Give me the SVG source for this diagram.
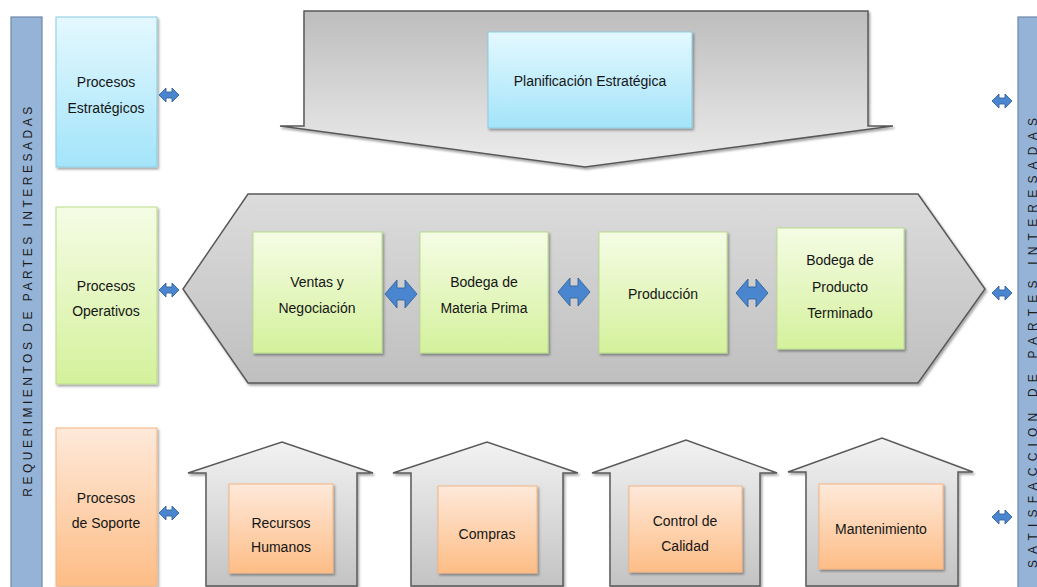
<svg xmlns="http://www.w3.org/2000/svg" width="1037" height="587" viewBox="0 0 1037 587">
  <defs>
    <linearGradient id="gBlue" x1="0" y1="0" x2="0" y2="1">
      <stop offset="0" stop-color="#E4F8FE"/>
      <stop offset="1" stop-color="#A3E4FA"/>
    </linearGradient>
    <linearGradient id="gGreen" x1="0" y1="0" x2="0" y2="1">
      <stop offset="0" stop-color="#F5FCE5"/>
      <stop offset="1" stop-color="#D4F19C"/>
    </linearGradient>
    <linearGradient id="gOrange" x1="0" y1="0" x2="0" y2="1">
      <stop offset="0" stop-color="#FEE9DA"/>
      <stop offset="1" stop-color="#FDBD86"/>
    </linearGradient>
    <linearGradient id="gBanner" x1="0" y1="0" x2="0" y2="1">
      <stop offset="0" stop-color="#BDBDBD"/>
      <stop offset="1" stop-color="#EDEDED"/>
    </linearGradient>
    <linearGradient id="gHex" x1="0" y1="0" x2="0" y2="1">
      <stop offset="0" stop-color="#DCDCDC"/>
      <stop offset="1" stop-color="#BFBFBF"/>
    </linearGradient>
    <linearGradient id="gHouse" x1="0" y1="0" x2="0" y2="1">
      <stop offset="0" stop-color="#F2F2F2"/>
      <stop offset="1" stop-color="#C3C3C3"/>
    </linearGradient>
    <filter id="shadow" x="-10%" y="-10%" width="130%" height="130%">
      <feDropShadow dx="1.5" dy="2" stdDeviation="1.2" flood-color="#000" flood-opacity="0.35"/>
    </filter>
    <!-- double-headed block arrows, centred on the origin -->
    <path id="dblSmall" d="M-10,0 L-3,-7 L-3,-3 L3,-3 L3,-7 L10,0 L3,7 L3,3 L-3,3 L-3,7 Z"/>
    <path id="dblBig" d="M-16,0 L-4,-14 L-4,-6 L4,-6 L4,-14 L16,0 L4,14 L4,6 L-4,6 L-4,14 Z"/>
  </defs>
  <style>
    .lbl { font-family: "Liberation Sans", Arial, sans-serif; font-size: 14px; fill: #151515; text-anchor: middle; }
    .side { fill: #95B3D7; stroke: #6F87A8; stroke-width: 1.2; }
    .sideTxt { font-family: "Liberation Sans", Arial, sans-serif; font-size: 12px; fill: #1A1A1A; text-anchor: middle; }
    .blue { fill: url(#gBlue); stroke: #8CCBE0; stroke-width: 1; filter: url(#shadow); }
    .green { fill: url(#gGreen); stroke: #B9DC8C; stroke-width: 1; filter: url(#shadow); }
    .orange { fill: url(#gOrange); stroke: #F2B484; stroke-width: 1; filter: url(#shadow); }
    .gray { stroke: #595959; stroke-width: 1.5; stroke-linejoin: miter; filter: url(#shadow); }
    .arr { fill: #4A86CF; stroke: #34629A; stroke-width: 0.9; }
  </style>

  <rect width="1037" height="587" fill="#FFFFFF"/>

  <!-- side bands -->
  <g id="requerimientos">
    <rect class="side" x="11" y="17" width="31" height="575"/>
    <text class="sideTxt" transform="translate(32,300) rotate(-90)" letter-spacing="3.5">REQUERIMIENTOS DE PARTES INTERESADAS</text>
  </g>
  <g id="satisfaccion">
    <rect class="side" x="1018" y="17" width="30" height="575"/>
    <text class="sideTxt" transform="translate(1036.5,340) rotate(-90)" letter-spacing="6.2">SATISFACCION DE PARTES INTERESADAS</text>
  </g>

  <!-- process category boxes -->
  <g id="procesos-estrategicos">
    <rect class="blue" x="56" y="17" width="101" height="150"/>
    <text class="lbl" x="106" y="87">Procesos</text>
    <text class="lbl" x="106" y="113">Estratégicos</text>
  </g>
  <g id="procesos-operativos">
    <rect class="green" x="56" y="207" width="101" height="177"/>
    <text class="lbl" x="106" y="291">Procesos</text>
    <text class="lbl" x="106" y="316">Operativos</text>
  </g>
  <g id="procesos-soporte">
    <rect class="orange" x="56" y="428" width="101" height="158"/>
    <text class="lbl" x="106" y="503">Procesos</text>
    <text class="lbl" x="106" y="528">de Soporte</text>
  </g>

  <!-- strategic planning banner -->
  <g id="planificacion">
    <path class="gray" fill="url(#gBanner)" d="M304,11 L868,11 L868,126 L893,126 L585,167 L280,126 L304,126 Z"/>
    <rect class="blue" x="488" y="32" width="204" height="96"/>
    <text class="lbl" x="590" y="86">Planificación Estratégica</text>
  </g>

  <!-- operative chain -->
  <g id="cadena-operativa">
    <path class="gray" fill="url(#gHex)" d="M248,194 L918,194 L985,289 L918,383 L248,383 L183,289 Z"/>
  </g>
  <g id="ventas">
    <rect class="green" x="253" y="232" width="129" height="121"/>
    <text class="lbl" x="317" y="287">Ventas y</text>
    <text class="lbl" x="317" y="313">Negociación</text>
  </g>
  <g id="bodega-mp">
    <rect class="green" x="420" y="232" width="128" height="121"/>
    <text class="lbl" x="484" y="287">Bodega de</text>
    <text class="lbl" x="484" y="313">Materia Prima</text>
  </g>
  <g id="produccion">
    <rect class="green" x="599" y="232" width="128" height="121"/>
    <text class="lbl" x="663" y="299">Producción</text>
  </g>
  <g id="bodega-pt">
    <rect class="green" x="777" y="228" width="127" height="121"/>
    <text class="lbl" x="840" y="265">Bodega de</text>
    <text class="lbl" x="840" y="292">Producto</text>
    <text class="lbl" x="840" y="318">Terminado</text>
  </g>

  <!-- support processes -->
  <g id="recursos-humanos">
    <path class="gray" fill="url(#gHouse)" d="M206,586 L206,473 L188,473 L282,442 L373,473 L357,473 L357,586 Z"/>
    <rect class="orange" x="229" y="484" width="104" height="89"/>
    <text class="lbl" x="281" y="528">Recursos</text>
    <text class="lbl" x="281" y="552">Humanos</text>
  </g>
  <g id="compras">
    <path class="gray" fill="url(#gHouse)" d="M411,586 L411,473 L393,473 L487,442 L578,473 L563,473 L563,586 Z"/>
    <rect class="orange" x="438" y="486" width="99" height="87"/>
    <text class="lbl" x="487" y="539">Compras</text>
  </g>
  <g id="control-calidad">
    <path class="gray" fill="url(#gHouse)" d="M610,586 L610,473 L592,473 L686,440 L777,473 L760,473 L760,586 Z"/>
    <rect class="orange" x="629" y="486" width="113" height="86"/>
    <text class="lbl" x="685" y="526">Control de</text>
    <text class="lbl" x="685" y="551">Calidad</text>
  </g>
  <g id="mantenimiento">
    <path class="gray" fill="url(#gHouse)" d="M806,586 L806,472 L788,472 L882,438 L973,472 L958,472 L958,586 Z"/>
    <rect class="orange" x="819" y="484" width="124" height="85"/>
    <text class="lbl" x="881" y="534">Mantenimiento</text>
  </g>

  <!-- connectors -->
  <g id="conectores">
    <use href="#dblSmall" class="arr" x="169" y="95"/>
    <use href="#dblSmall" class="arr" x="169" y="290"/>
    <use href="#dblSmall" class="arr" x="169" y="513"/>
    <use href="#dblSmall" class="arr" x="1002" y="101"/>
    <use href="#dblSmall" class="arr" x="1002" y="293"/>
    <use href="#dblSmall" class="arr" x="1002" y="517"/>
    <use href="#dblBig" class="arr" x="401" y="294"/>
    <use href="#dblBig" class="arr" x="574" y="292"/>
    <use href="#dblBig" class="arr" x="752" y="293"/>
  </g>
</svg>
